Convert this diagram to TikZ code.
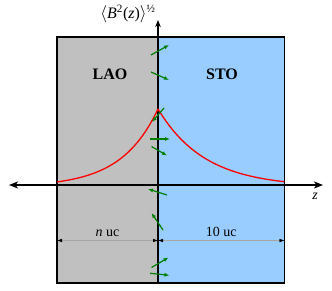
\documentclass[tikz,border=0pt]{standalone}
\usepackage{fontspec}
\setmainfont{Liberation Serif}
\usetikzlibrary{arrows.meta}

\definecolor{laogray}{RGB}{192,192,192}
\definecolor{stoblue}{RGB}{153,204,255}
\definecolor{spingreen}{RGB}{0,128,0}

\begin{document}
\begin{tikzpicture}[
    x=1pt, y=-1pt,
    axis/.style={line width=1.3pt, {Stealth[length=9pt, width=7pt, inset=2.5pt]}-{Stealth[length=9pt, width=7pt, inset=2.5pt]}},
    vaxis/.style={line width=1.6pt, -{Stealth[length=7pt, width=5.5pt, inset=2pt]}},
    spin/.style={spingreen, line width=1.2pt, -{Latex[length=5pt, width=4pt]}},
    dimline/.style={gray!70, line width=0.4pt, {Latex[black, length=5pt, width=3.5pt]}-{Latex[black, length=5pt, width=3.5pt]}},
    layer/.style={font=\fontsize{16}{18}\selectfont\bfseries, anchor=base},
    dimlabel/.style={font=\fontsize{14}{16}\selectfont, text=black, anchor=base, yshift=4pt}
]
\useasboundingbox (0,0) rectangle (332,291);

% Layers
\coordinate (tl) at (57,37);
\coordinate (tm) at (158,37);
\coordinate (bm) at (158,283);
\coordinate (br) at (284.5,283);
\fill[laogray] (tl) rectangle (bm);
\fill[stoblue] (tm) rectangle (br);
\draw[line width=1.2pt] (tl) rectangle (br);

\node[layer] (lao) at (110,79.3) {LAO};
\node[layer] (sto) at (222,79.3) {STO};

% Thickness markers
\coordinate (dL) at (57,240.5);
\coordinate (dM) at (158,240.5);
\coordinate (dR) at (284.5,240.5);
\draw[dimline] (dL) -- (dM) node[dimlabel, midway] (nuc) {\textit{n} uc};
\draw[dimline] (dM) -- (dR) node[dimlabel, midway] (tenuc) {10 uc};

% Axes
\coordinate (zL) at (9,185);
\coordinate (zR) at (323,185);
\coordinate (bTop) at (158,20);
\draw[axis] (zL) -- (zR);
\draw[vaxis] (bm) -- (bTop);
\node[font=\fontsize{14}{16}\selectfont\itshape] (zlabel) at (315,196.5) {z};
\node[font=\fontsize{16}{18}\selectfont, anchor=base] (blabel) at (128,18.3)
  {$\langle$\textit{B}\textsuperscript{2}(\textit{z})$\rangle$\textsuperscript{½}};

% Field profile
\draw[red, line width=1.3pt] plot[domain=57:158, samples=60, smooth] (\x, {187 - 78*exp(-(158-\x)/37)});
\draw[red, line width=1.3pt] plot[domain=158:284.5, samples=60, smooth] (\x, {187 - 78*exp(-(\x-158)/47)});

% Spins at the interface
\foreach \xa/\ya/\xb/\yb in {151/55/169/45, 151/72/169/80, 164/108/152/122,
    150/139/170/139, 151.5/146.5/167/155.5, 167/195/148/189,
    163/230/151.5/213, 151.5/267.5/168.5/257.5, 150/273.3/169.5/275.3}{
  \draw[spin] (\xa,\ya) -- (\xb,\yb);
}

\end{tikzpicture}
\end{document}
